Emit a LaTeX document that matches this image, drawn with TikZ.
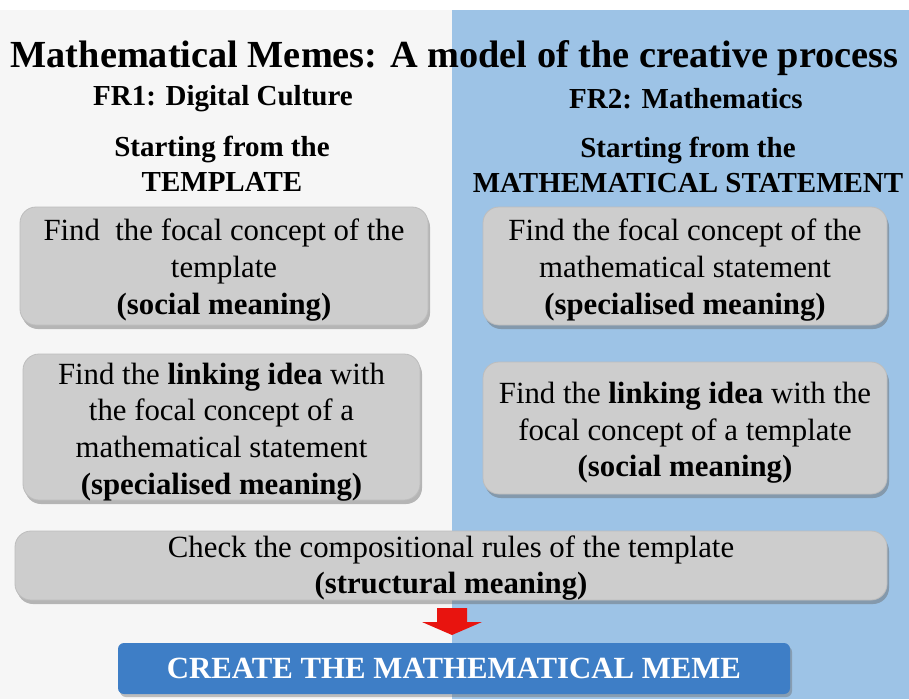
\documentclass[tikz,border=0pt]{standalone}
\usepackage{fontspec}
\setmainfont{Liberation Serif}
\usetikzlibrary{shadows}
\definecolor{leftbg}{HTML}{F6F6F6}
\definecolor{rightbg}{HTML}{9DC3E6}
\definecolor{boxgray}{HTML}{CDCDCD}
\definecolor{boxedge}{HTML}{BDBDBD}
\definecolor{memeblue}{HTML}{3E7EC6}
\definecolor{arrowred}{HTML}{E8140F}
\tikzset{
  hdtext/.style={font=\bfseries\fontsize{29}{35}\selectfont, align=center, inner sep=0pt},
  stepbox/.style={draw=boxedge, line width=0.8pt, fill=boxgray, rounded corners=16pt,
    inner sep=0pt,
    drop shadow={shadow xshift=2pt, shadow yshift=-4pt, opacity=0.45, fill=black!60}},
  boxtext/.style={align=center, inner sep=0pt, font=\fontsize{30.8}{36.7}\selectfont},
}
\begin{document}
\begin{tikzpicture}[x=1pt,y=-1pt]
\useasboundingbox (0,0) rectangle (909,699);
\fill[white] (0,0) rectangle (909,699);
\fill[leftbg] (0,10) rectangle (452,699);
\fill[rightbg] (452,10) rectangle (909,699);

\node[font=\bfseries\fontsize{38.3}{44}\selectfont, inner sep=0pt] (title) at (454.5,58) {Mathematical Memes: A model of the creative process};
\node[hdtext] (fr1) at (223,99) {FR1: Digital Culture};
\node[hdtext] (fr2) at (686,99) {FR2: Mathematics};
\node[hdtext] (st1) at (222,164) {Starting from the\\TEMPLATE};
\node[hdtext] (st2) at (688,165) {Starting from the\\MATHEMATICAL STATEMENT};

\node[stepbox, minimum width=408pt, minimum height=118pt] (l1) at (224,266) {};
\node[boxtext] (l1t) at ([yshift=-4pt]l1.center)
  {Find\ \ the focal concept of the\\template\\\textbf{(social meaning)}};
\node[stepbox, minimum width=404pt, minimum height=118pt] (r1) at (685,266) {};
\node[boxtext] (r1t) at ([yshift=-4pt]r1.center)
  {Find the focal concept of the\\mathematical statement\\\textbf{(specialised meaning)}};
\node[stepbox, minimum width=397pt, minimum height=146pt] (l2) at (221.5,427) {};
\node[boxtext] (l2t) at ([yshift=-5pt]l2.center)
  {Find the \textbf{linking idea} with\\the focal concept of a\\mathematical statement\\\textbf{(specialised meaning)}};
\node[stepbox, minimum width=404pt, minimum height=132pt] (r2) at (685,428) {};
\node[boxtext] (r2t) at ([yshift=-5pt]r2.center)
  {Find the \textbf{linking idea} with the\\focal concept of a template\\\textbf{(social meaning)}};
\node[stepbox, minimum width=872pt, minimum height=69pt] (chk) at (451,565.5) {};
\node[boxtext, font=\fontsize{30.8}{36}\selectfont] (chkt) at ([yshift=-3pt]chk.center)
  {Check the compositional rules of the template\\\textbf{(structural meaning)}};

\node[fill=memeblue, rounded corners=6pt, minimum width=672pt, minimum height=51pt, inner sep=0pt,
  text=white, font=\bfseries\fontsize{30.8}{36}\selectfont,
  drop shadow={shadow xshift=2pt, shadow yshift=-3pt, opacity=0.4, fill=black!60}] (meme) at (454,668.5)
  {CREATE THE MATHEMATICAL MEME};

\coordinate (arr) at (452,608);
\fill[arrowred] (arr) ++(-15,0) -- ++(30,0) -- ++(0,14) -- ++(15,0) -- ++(-30,13) -- ++(-30,-13) -- ++(15,0) -- cycle;
\end{tikzpicture}
\end{document}
